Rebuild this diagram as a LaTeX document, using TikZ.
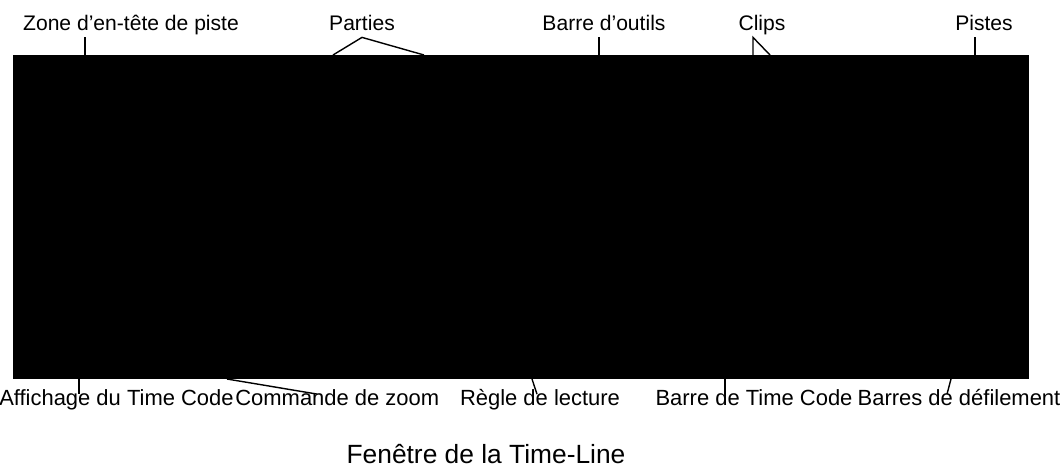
\documentclass[tikz,border=0pt]{standalone}
\usepackage{fontspec}
\setmainfont{Liberation Sans}
\usetikzlibrary{calc}
\tikzset{
  lbl/.style={inner sep=0pt, text height=6pt, text depth=4pt, font=\fontsize{12}{14}\selectfont},
  lblbot/.style={lbl, font=\fontsize{12.5}{14}\selectfont},
  leader/.style={line width=0.8pt, color=black},
}

\begin{document}
\begin{tikzpicture}[x=0.02cm, y=-0.02cm]
		%%%%% START %%%%%
		\useasboundingbox (0, 0) rectangle (1062, 471);
		
		% screenshot of the window
		\node[fill=black, draw=none, inner sep=0pt, minimum width=20.32cm, minimum height=6.48cm] (shot) at (521, 217) {};
		
		% top labels
		\node[lbl, anchor=base] (zone) at (131, 30) {Zone d’en-tête de piste};
		\node[lbl, anchor=base] (parties) at (362, 30) {Parties};
		\node[lbl, anchor=base] (outils) at (604, 30) {Barre d’outils};
		\node[lbl, anchor=base] (clips) at (762, 30) {Clips};
		\node[lbl, anchor=base] (pistes) at (984, 30) {Pistes};
		
		% bottom labels
		\node[lblbot, anchor=base east] (affichage) at (234, 405) {Affichage du Time Code};
		\node[lblbot, anchor=base west] (commande) at (235, 405) {Commande de zoom};
		\node[lblbot, anchor=base] (regle) at (540, 405) {Règle de lecture};
		\node[lblbot, anchor=base] (barretc) at (754, 405) {Barre de Time Code};
		\node[lblbot, anchor=base] (defil) at (959, 405) {Barres de défilement};
		
		\node[anchor=base, inner sep=0pt, font=\fontsize{15}{18}\selectfont] (titre) at (486, 463) {Fenêtre de la Time-Line};
		
		% where the leaders touch the screenshot
		\coordinate (zoneTip) at (85, 55);
		\coordinate (partiesTipA) at (333, 55);
		\coordinate (partiesTipB) at (424, 55);
		\coordinate (outilsTip) at (599, 55);
		\coordinate (clipsTipA) at (753, 55);
		\coordinate (clipsTipB) at (770, 55);
		\coordinate (pistesTip) at (975, 55);
		\coordinate (affTip) at (79, 379);
		\coordinate (zoomTip) at (227, 379);
		\coordinate (regleTip) at (532, 379);
		\coordinate (tcTip) at (725, 379);
		\coordinate (defilTip) at (951, 379);
		
		% leaders
		\draw[leader] (zoneTip |- zone.south) -- (zoneTip);
		\draw[leader] (partiesTipA) -- (parties.south) -- (partiesTipB);
		\draw[leader] (outilsTip |- outils.south) -- (outilsTip);
		\draw[leader] (clipsTipA) -- (clipsTipA |- clips.south) -- (clipsTipB);
		\draw[leader] (pistesTip |- pistes.south) -- (pistesTip);
		
		\draw[leader] (affTip) -- (affTip |- affichage.north);
		\draw[leader] (zoomTip) -- ($(commande.north)+(-20, 0)$);
		\draw[leader] (regleTip) -- ($(regle.north)+(-3, 0)$);
		\draw[leader] (tcTip) -- (tcTip |- barretc.north);
		\draw[leader] (defilTip) -- ($(defil.north)+(-12, 0)$);
		
		%%%%% END %%%%%
\end{tikzpicture}
\end{document}
